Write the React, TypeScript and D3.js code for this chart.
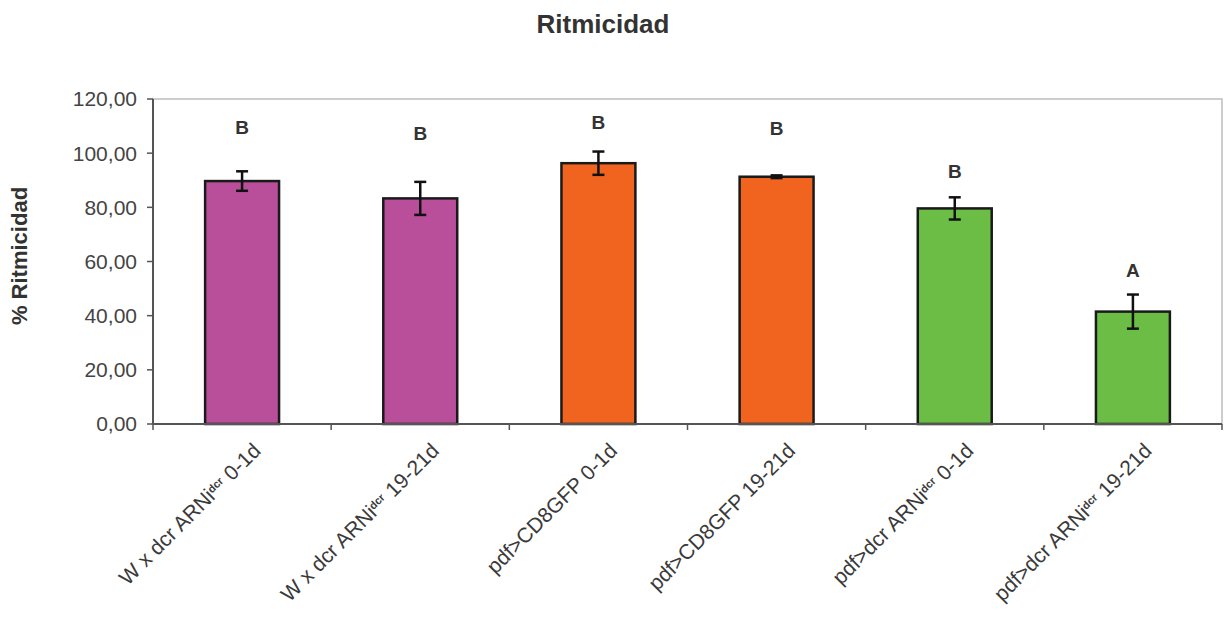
import React from "react";
import * as d3 from "d3";

// Genotype / age groups
const groups = [
  { pre: "W x dcr ARNi", sup: "dcr", post: " 0-1d" },
  { pre: "W x dcr ARNi", sup: "dcr", post: " 19-21d" },
  { pre: "pdf>CD8GFP 0-1d", sup: "", post: "" },
  { pre: "pdf>CD8GFP 19-21d", sup: "", post: "" },
  { pre: "pdf>dcr ARNi", sup: "dcr", post: " 0-1d" },
  { pre: "pdf>dcr ARNi", sup: "dcr", post: " 19-21d" },
];
const means = [89.7, 83.3, 96.3, 91.3, 79.6, 41.5];
const errors = [3.6, 6.1, 4.3, 0.5, 4.1, 6.3];
const letters = ["B", "B", "B", "B", "B", "A"];
const letterLevels = [109.5, 107.5, 111.3, 109.0, 93.2, 56.6];
const fills = ["#B94E9B", "#B94E9B", "#F0641F", "#F0641F", "#6BBD45", "#6BBD45"];
const yTicks = [0, 20, 40, 60, 80, 100, 120];

const W = 1228;
const H = 621;
const M = { left: 153, right: 1222, top: 99, bottom: 424 };
const FONT = "'Liberation Sans', Arial, sans-serif";

export default function App() {
  const x = d3
    .scaleBand<number>()
    .domain(d3.range(groups.length))
    .range([M.left, M.right])
    .paddingInner(0.585)
    .paddingOuter(0.2925);
  const y = d3.scaleLinear().domain([0, 120]).range([M.bottom, M.top]);
  const step = (M.right - M.left) / groups.length;
  const fmt = (v: number) => d3.format(".2f")(v).replace(".", ",");

  return (
    <svg
      width={W}
      height={H}
      style={{ position: "fixed", left: 0, top: 0, background: "#fff" }}
      fontFamily={FONT}
    >
      {/* title */}
      <text x={603} y={33} textAnchor="middle" fontSize={26} fontWeight="bold" fill="#333">
        Ritmicidad
      </text>

      {/* y axis title */}
      <text
        transform={`translate(27,${256}) rotate(-90)`}
        textAnchor="middle"
        fontSize={22}
        fontWeight="bold"
        fill="#333"
      >
        % Ritmicidad
      </text>

      {/* plot frame */}
      <rect
        x={M.left}
        y={M.top}
        width={M.right - M.left}
        height={M.bottom - M.top}
        fill="none"
        stroke="#bdbdbd"
        strokeWidth={1.5}
      />

      {/* y axis */}
      <line x1={M.left} x2={M.left} y1={M.top} y2={M.bottom} stroke="#555" strokeWidth={2} />
      {yTicks.map((t) => (
        <g key={t}>
          <line x1={M.left - 6} x2={M.left} y1={y(t)} y2={y(t)} stroke="#555" strokeWidth={1.5} />
          <text
            x={137}
            y={y(t)}
            dy="0.35em"
            textAnchor="end"
            fontSize={21}
            fill="#444"
          >
            {fmt(t)}
          </text>
        </g>
      ))}

      {/* bars */}
      {means.map((v, i) => (
        <rect
          key={i}
          x={x(i)!}
          y={y(v)}
          width={x.bandwidth()}
          height={y(0) - y(v)}
          fill={fills[i]}
          stroke="#1a1a1a"
          strokeWidth={2.5}
        />
      ))}

      {/* x axis */}
      <line x1={M.left} x2={M.right} y1={M.bottom} y2={M.bottom} stroke="#555" strokeWidth={2} />
      {d3.range(groups.length + 1).map((k) => (
        <line
          key={k}
          x1={M.left + k * step}
          x2={M.left + k * step}
          y1={M.bottom}
          y2={M.bottom + 6}
          stroke="#555"
          strokeWidth={1.5}
        />
      ))}

      {/* error bars */}
      {means.map((v, i) => {
        const cx = x(i)! + x.bandwidth() / 2;
        const hi = y(v + errors[i]);
        const lo = y(v - errors[i]);
        return (
          <g key={i} stroke="#111" strokeWidth={2.5}>
            <line x1={cx} x2={cx} y1={hi} y2={lo} />
            <line x1={cx - 6} x2={cx + 6} y1={hi} y2={hi} />
            <line x1={cx - 6} x2={cx + 6} y1={lo} y2={lo} />
          </g>
        );
      })}

      {/* significance letters */}
      {letters.map((l, i) => (
        <text
          key={i}
          x={x(i)! + x.bandwidth() / 2}
          y={y(letterLevels[i])}
          dy="0.35em"
          textAnchor="middle"
          fontSize={19}
          fontWeight="bold"
          fill="#333"
        >
          {l}
        </text>
      ))}

      {/* category labels */}
      {groups.map((g, i) => {
        const cx = x(i)! + x.bandwidth() / 2;
        return (
          <text
            key={i}
            transform={`translate(${cx + 20},${M.bottom + 28}) rotate(-45)`}
            textAnchor="end"
            fontSize={21}
            fill="#3a3a3a"
          >
            {g.pre}
            {g.sup ? (
              <tspan fontSize={11} baselineShift="super" fontWeight="bold">
                {g.sup}
              </tspan>
            ) : null}
            {g.post ? <tspan>{g.post}</tspan> : null}
          </text>
        );
      })}
    </svg>
  );
}
